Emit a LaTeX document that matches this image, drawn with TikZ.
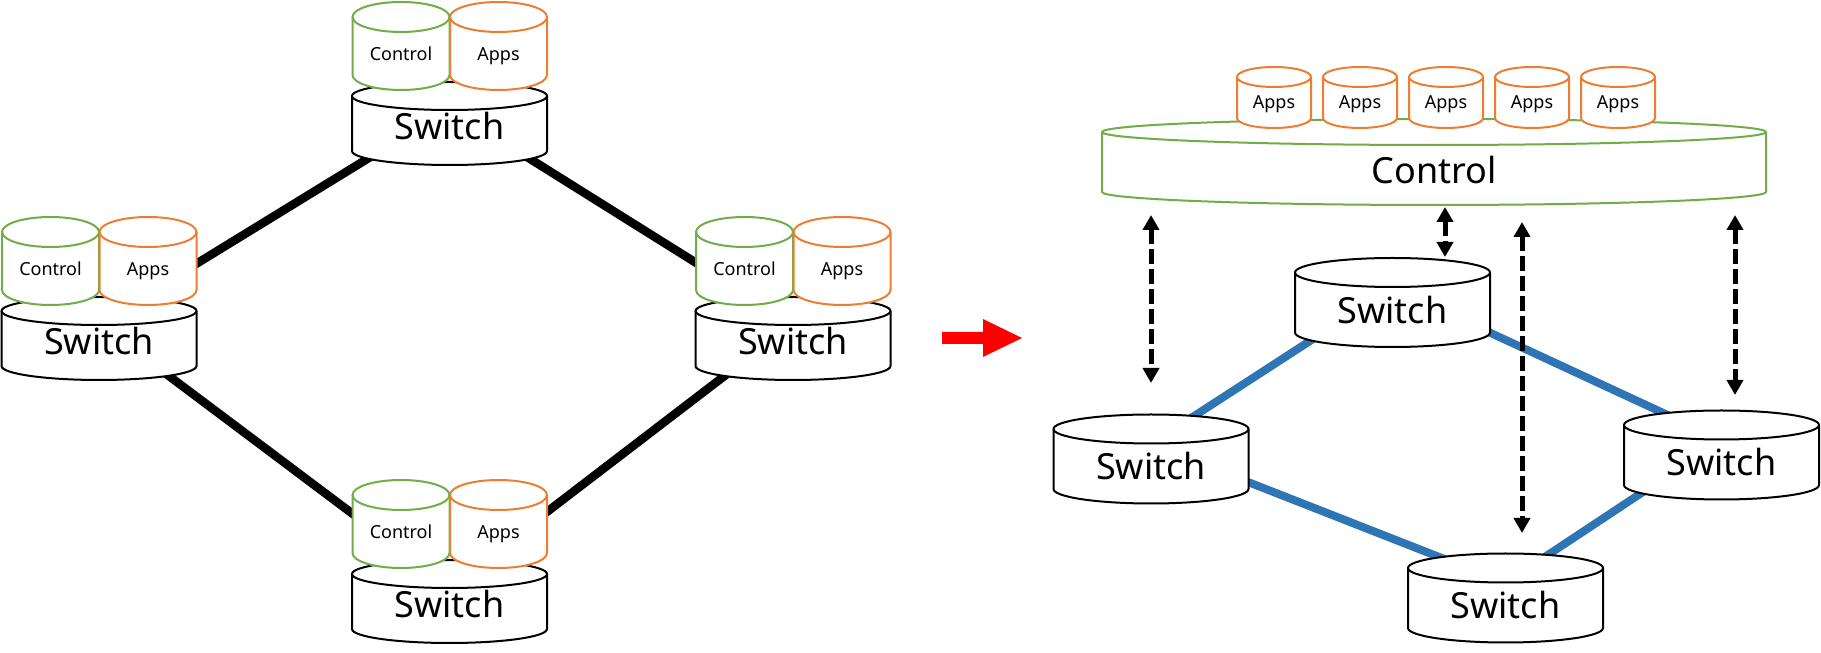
\documentclass[tikz,border=0pt]{standalone}
\usepackage{fontspec}
\setmainfont{Noto Sans}
\usetikzlibrary{arrows.meta}
\definecolor{ctlgreen}{HTML}{70AD47}
\definecolor{appsorange}{HTML}{ED7D31}
\definecolor{linkblue}{HTML}{2E75B6}
\definecolor{arrowred}{HTML}{FF0000}
\pgfdeclarelayer{bg}
\pgfsetlayers{bg,main}

% Cylinder outline: centre x, centre y, half width, half body height, rim radius, colour
\newcommand\drum[6]{%
  \filldraw[draw=#6, fill=white, outline]
    (#1-#3, #2+#4) -- (#1-#3, #2-#4)
    arc[start angle=180, end angle=360, x radius=#3, y radius=#5]
    -- (#1+#3, #2+#4)
    arc[start angle=0, end angle=180, x radius=#3, y radius=#5] -- cycle;
  \draw[#6, outline] (#1-#3, #2+#4)
    arc[start angle=180, end angle=360, x radius=#3, y radius=#5];
}

\begin{document}
\begin{tikzpicture}[x=1pt, y=1pt,
  outline/.style={line width=2pt, line join=round},
  bigtxt/.style={font=\fontsize{36}{40}\selectfont, inner sep=0pt, text height=25.7pt, text depth=0pt},
  smalltxt/.style={font=\fontsize{18}{20}\selectfont, inner sep=0pt, text height=12.9pt, text depth=0pt},
  blacklink/.style={line width=8.5pt, black},
  bluelink/.style={line width=8pt, linkblue},
  ctlarrow/.style={line width=5pt, black, dash pattern=on 15pt off 5pt,
    {Triangle[width=16pt,length=15pt]}-{Triangle[width=16pt,length=15pt]}}]
\useasboundingbox (0,0) rectangle (1821,653);

% ---------- distributed control: four switches, each with its own control and apps
% top
\drum{449.5}{529.5}{97.5}{27.5}{14}{black}
\node[bigtxt] (swT) at (449.5,526.5) {Switch};
\drum{401}{607}{48.5}{29}{15}{ctlgreen}
\node[smalltxt] (ctT) at (401,599) {Control};
\drum{498.5}{607}{48.5}{29}{15}{appsorange}
\node[smalltxt] (apT) at (498.5,599) {Apps};
% left
\drum{99}{314.5}{97.5}{27.5}{14}{black}
\node[bigtxt] (swL) at (99,311.5) {Switch};
\drum{50.5}{392}{48.5}{29}{15}{ctlgreen}
\node[smalltxt] (ctL) at (50.5,384) {Control};
\drum{148}{392}{48.5}{29}{15}{appsorange}
\node[smalltxt] (apL) at (148,384) {Apps};
% right
\drum{793}{314.5}{97.5}{27.5}{14}{black}
\node[bigtxt] (swR) at (793,311.5) {Switch};
\drum{744.5}{392}{48.5}{29}{15}{ctlgreen}
\node[smalltxt] (ctR) at (744.5,384) {Control};
\drum{842}{392}{48.5}{29}{15}{appsorange}
\node[smalltxt] (apR) at (842,384) {Apps};
% bottom
\drum{449.5}{51.5}{97.5}{27.5}{14}{black}
\node[bigtxt] (swB) at (449.5,48.5) {Switch};
\drum{401}{129}{48.5}{29}{15}{ctlgreen}
\node[smalltxt] (ctB) at (401,121) {Control};
\drum{498.5}{129}{48.5}{29}{15}{appsorange}
\node[smalltxt] (apB) at (498.5,121) {Apps};

\begin{pgfonlayer}{bg}
  \draw[blacklink] ([yshift=18pt]swL.center) -- ([yshift=18pt]swT.center);
  \draw[blacklink] ([yshift=18pt]swT.center) -- ([yshift=18pt]swR.center);
  \draw[blacklink] ([yshift=18pt]swL.center) -- ([yshift=18pt]swB.center);
  \draw[blacklink] ([yshift=18pt]swR.center) -- ([yshift=18pt]swB.center);
\end{pgfonlayer}

% ---------- transition arrow
\fill[arrowred] (942,321) -- (983,321) -- (983,334) -- (1022,315)
  -- (983,296) -- (983,309) -- (942,309) -- cycle;

% ---------- centralised control: one controller over four switches
\drum{1434}{491}{332}{30}{13}{ctlgreen}
\node[bigtxt] (ctl) at (1434,482) {Control};
\foreach \i/\cx in {1/1274,2/1360,3/1446,4/1532,5/1618}{
  \drum{\cx}{555.5}{37}{20.5}{10}{appsorange}
  \node[smalltxt] (app\i) at (\cx,550.5) {Apps};
}

\drum{1392.5}{350.5}{97.5}{30}{14.5}{black}
\node[bigtxt] (s1) at (1392.5,342.5) {Switch};
\drum{1151}{194}{97.5}{30}{14.5}{black}
\node[bigtxt] (s2) at (1151,186) {Switch};
\drum{1721.5}{198}{97.5}{30}{14.5}{black}
\node[bigtxt] (s3) at (1721.5,190) {Switch};
\drum{1505.5}{55}{97.5}{30}{14.5}{black}
\node[bigtxt] (s4) at (1505.5,47) {Switch};

\begin{pgfonlayer}{bg}
  \draw[bluelink] ([yshift=23pt]s1.center) -- ([yshift=23pt]s2.center);
  \draw[bluelink] ([yshift=23pt]s2.center) -- ([yshift=23pt]s4.center);
  \draw[bluelink] ([yshift=23pt]s4.center) -- ([yshift=23pt]s3.center);
  \draw[bluelink] ([yshift=23pt]s1.center) -- ([yshift=23pt]s3.center);
\end{pgfonlayer}

% control channels between the controller and the switches
\coordinate (c1a) at (1151,438);   \coordinate (c1b) at (1151,270);
\coordinate (c2a) at (1445,446);   \coordinate (c2b) at (1445,396);
\coordinate (c3a) at (1522,431);   \coordinate (c3b) at (1522,120);
\coordinate (c4a) at (1735,438);   \coordinate (c4b) at (1735,258);
\draw[ctlarrow] (c1a) -- (c1b);
\draw[ctlarrow] (c2a) -- (c2b);
\draw[ctlarrow] (c3a) -- (c3b);
\draw[ctlarrow] (c4a) -- (c4b);
\end{tikzpicture}
\end{document}
